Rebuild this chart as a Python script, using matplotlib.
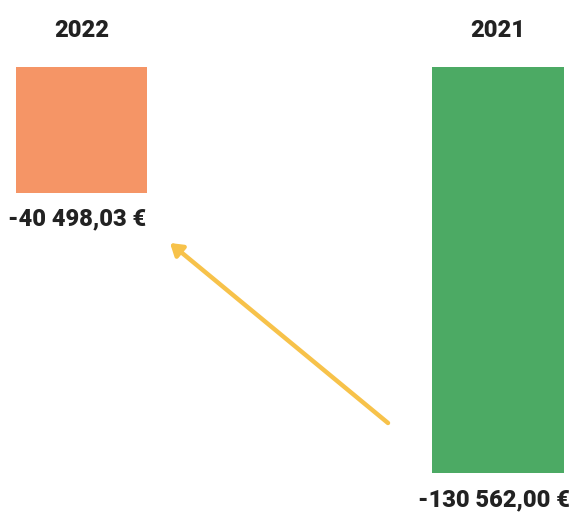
import matplotlib
matplotlib.use("Agg")
import matplotlib.pyplot as plt

years = ["2022", "2021"]
values = [-40498.03, -130562.00]
value_labels = ["-40 498,03 €", "-130 562,00 €"]
colors = ["#F59566", "#4CAA64"]

W, H = 571, 513
fig = plt.figure(figsize=(W / 100, H / 100), dpi=100)
ax = fig.add_axes([0, 0, 1, 1])
ax.set_axis_off()

x = [0, 1]
ax.bar(x, values, width=0.315, color=colors, align="center")
ax.set_xlim(-0.1957, 1.175)
ax.set_ylim(-143400, 21550)

font = dict(family=["Roboto", "DejaVu Sans"], fontweight="heavy", color="#222222",
            fontsize=17)
for xi, yr, v, lab in zip(x, years, values, value_labels):
    ax.text(xi, 1 - 31 / H, yr, transform=ax.get_xaxis_transform(), ha="center", va="center", **font)
    ax.annotate(lab, xy=(xi, v), xytext=(-3, -19), textcoords="offset points",
                ha="center", va="center", **font)

ax.annotate("", xy=(170 / W, 1 - 243 / H), xytext=(388 / W, 1 - 423 / H),
            xycoords="axes fraction", textcoords="axes fraction",
            arrowprops=dict(arrowstyle="-|>,head_length=0.7,head_width=0.45",
                            color="#F7C24A", lw=3.2, shrinkA=0, shrinkB=0))

fig.savefig("out.png", dpi=100)
